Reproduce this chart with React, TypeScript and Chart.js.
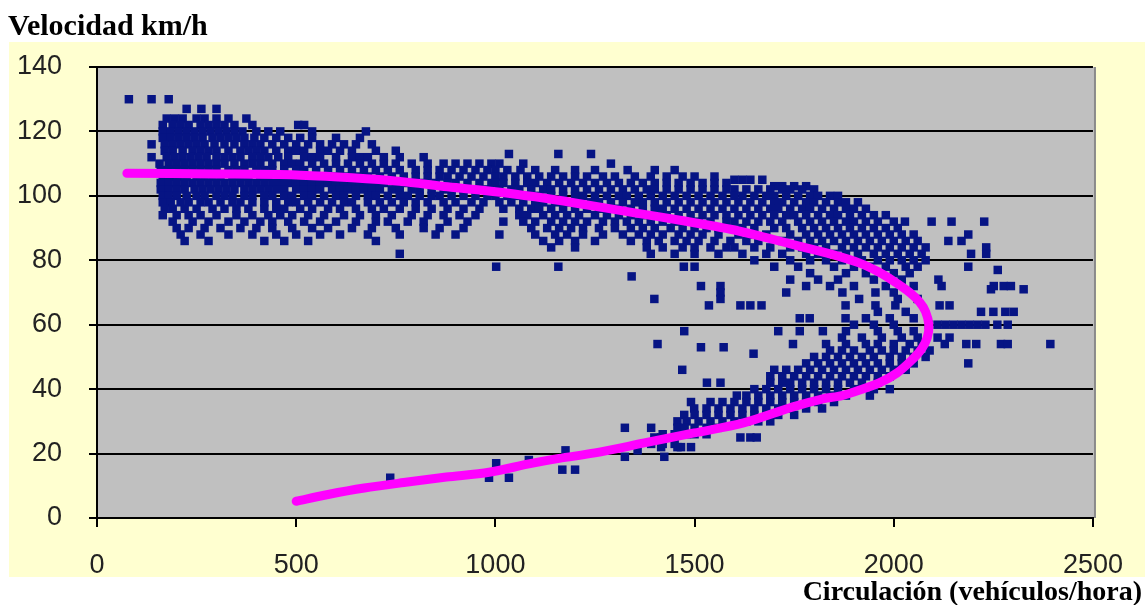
import React, { useEffect, useRef } from "react";
import { Chart, registerables } from "chart.js";

Chart.register(...registerables);

const yTickValues = [0, 20, 40, 60, 80, 100, 120, 140];
const xTickValues = [0, 500, 1000, 1500, 2000, 2500];

// Fitted speed-flow curve (flow veh/h, speed km/h)
const curveFlow = [75, 300, 500, 640, 760, 880, 1000, 1100, 1200, 1350, 1475, 1600, 1680, 1760, 1840, 1913, 1960, 2000, 2040, 2065, 2080, 2088, 2084, 2070, 2045, 2008, 1965, 1921, 1870, 1822, 1747, 1623, 1499, 1374, 1250, 1160, 1084, 984, 877, 770, 671, 580, 500];
const curveSpeed = [107, 106.8, 106.5, 105.6, 104.5, 102.8, 101.3, 99.7, 97.8, 94.7, 92.2, 89.4, 87, 84.5, 82, 79.2, 76.5, 73.5, 70, 67, 64, 60, 56, 52.5, 49, 45, 42, 40, 38, 37, 34.5, 29.5, 26.4, 23.3, 20.2, 18.5, 16.8, 14.2, 12.7, 11, 9.3, 7.3, 5.2];

// Observations, grouped by speed row: [speed, flows]
const upperLeftRows: [number, number[]][] = [
  [130, [80, 137, 180]],
  [127, [225, 262, 300]],
  [124, [175, 195, 215, 250, 270, 300, 330, 375]],
  [122, [165, 190, 210, 230, 260, 280, 300, 320, 345, 390, 505, 520]],
  [120, [165, 185, 205, 225, 245, 265, 285, 305, 325, 345, 365, 400, 430, 460, 540, 675]],
  [118, [165, 185, 205, 225, 245, 265, 290, 310, 330, 350, 370, 395, 420, 450, 480, 510, 540, 600, 660]],
  [116, [137, 170, 190, 210, 230, 250, 270, 295, 320, 345, 370, 390, 410, 440, 470, 500, 530, 560, 590, 620, 650, 690]],
  [114, [170, 190, 215, 240, 260, 280, 300, 330, 360, 380, 400, 420, 450, 480, 500, 520, 560, 580, 610, 640, 700, 750]],
  [112, [137, 175, 195, 215, 235, 255, 275, 300, 320, 340, 360, 390, 410, 430, 455, 480, 520, 540, 560, 600, 640, 660, 680, 720, 760, 820]],
  [110, [157, 180, 200, 220, 240, 260, 280, 300, 320, 345, 370, 390, 410, 440, 470, 490, 510, 540, 570, 600, 630, 660, 690, 720, 750, 790, 830, 870, 900, 930, 960, 990]],
  [108, [160, 180, 200, 220, 240, 260, 280, 300, 330, 350, 370, 400, 420, 440, 470, 500, 520, 550, 580, 610, 640, 670, 700, 730, 760, 800, 830, 860, 890, 920, 950, 980]],
  [106, [165, 185, 205, 225, 250, 270, 290, 310, 340, 360, 380, 410, 430, 460, 480, 510, 540, 570, 600, 630, 650, 680, 710, 740, 770, 800, 830, 860, 880, 910, 940, 970]],
  [104, [160, 180, 200, 220, 240, 260, 280, 300, 320, 340, 360, 380, 400, 420, 440, 460, 480, 500, 520, 540, 560, 580, 600, 620, 640, 660, 680, 700, 720, 750, 780, 800, 820, 850, 880, 900, 930, 960, 990]],
  [102, [160, 180, 200, 220, 245, 265, 285, 305, 325, 345, 370, 390, 410, 430, 450, 470, 500, 520, 540, 560, 590, 610, 630, 650, 670, 690, 710, 740, 760, 790, 810, 840, 870, 890, 920, 950, 980]],
  [100, [165, 180, 200, 225, 250, 270, 300, 320, 340, 370, 390, 420, 440, 470, 490, 520, 540, 570, 600, 620, 650, 680, 700, 730, 760, 780, 810, 840, 860, 890, 920, 950, 980]],
  [98, [165, 185, 210, 230, 260, 280, 310, 340, 360, 390, 420, 450, 480, 500, 530, 560, 590, 620, 640, 680, 710, 740, 770, 800, 830, 870, 900, 940, 970]],
  [96, [170, 190, 220, 250, 290, 320, 350, 380, 420, 450, 470, 510, 540, 580, 610, 650, 690, 720, 760, 800, 840, 880, 920, 960]],
  [94, [165, 200, 230, 260, 300, 350, 390, 430, 460, 490, 530, 570, 620, 660, 700, 740, 790, 830, 870, 910, 950]],
  [92, [190, 240, 280, 330, 370, 410, 440, 480, 520, 560, 600, 650, 700, 730, 780, 820, 880, 930]],
  [90, [200, 230, 270, 310, 360, 400, 440, 490, 540, 580, 640, 690, 750, 820, 860, 920]],
  [88, [210, 260, 330, 390, 450, 500, 560, 610, 680, 760, 850, 900]],
  [86, [220, 280, 420, 470, 530, 700]],
  [82, [760]],
];

const upperMiddleRows: [number, number[]][] = [
  [113, [1034, 1158, 1240]],
  [110, [1010, 1070, 1290]],
  [108, [1000, 1030, 1063, 1100, 1150, 1200, 1250, 1332, 1400, 1450]],
  [106, [1000, 1020, 1050, 1080, 1110, 1140, 1170, 1200, 1230, 1270, 1300, 1350, 1390, 1430, 1470, 1500, 1550]],
  [104, [1000, 1020, 1050, 1080, 1100, 1130, 1160, 1190, 1220, 1250, 1280, 1310, 1340, 1370, 1400, 1430, 1460, 1490, 1520, 1550, 1580]],
  [102, [1010, 1040, 1060, 1090, 1120, 1140, 1170, 1200, 1230, 1260, 1290, 1320, 1350, 1380, 1400, 1430, 1460, 1490, 1520, 1550, 1580]],
  [100, [1000, 1030, 1060, 1080, 1110, 1140, 1170, 1200, 1220, 1250, 1280, 1310, 1330, 1360, 1390, 1420, 1450, 1480, 1510, 1540, 1570]],
  [98, [1010, 1040, 1070, 1100, 1120, 1150, 1180, 1210, 1240, 1260, 1290, 1320, 1350, 1370, 1400, 1430, 1460, 1490, 1520, 1550, 1580]],
  [96, [1020, 1060, 1090, 1110, 1140, 1170, 1200, 1230, 1260, 1290, 1310, 1340, 1370, 1400, 1420, 1450, 1480, 1510, 1540, 1570]],
  [94, [1060, 1080, 1120, 1150, 1180, 1210, 1250, 1280, 1310, 1340, 1370, 1400, 1430, 1460, 1490, 1520, 1550, 1580]],
  [92, [1020, 1070, 1100, 1140, 1170, 1200, 1230, 1270, 1300, 1330, 1360, 1390, 1420, 1450, 1480, 1510, 1540, 1580]],
  [90, [1090, 1130, 1160, 1190, 1220, 1260, 1300, 1340, 1370, 1400, 1440, 1470, 1500, 1530, 1560]],
  [88, [1010, 1100, 1150, 1180, 1220, 1270, 1320, 1360, 1390, 1420, 1460, 1490, 1520, 1560]],
  [86, [1120, 1160, 1200, 1250, 1340, 1380, 1410, 1450, 1480, 1510, 1550, 1590]],
  [84, [1140, 1200, 1380, 1420, 1470, 1500, 1540, 1580]],
  [82, [1390, 1450, 1500, 1560]],
  [78, [1002, 1158, 1473, 1500]],
  [75, [1342]],
  [72, [1516, 1565]],
];

const upperRightRows: [number, number[]][] = [
  [105, [1600, 1620, 1640, 1670]],
  [103, [1700, 1720, 1750, 1780]],
  [102, [1600, 1630, 1660, 1690, 1720, 1740, 1770, 1800]],
  [100, [1600, 1620, 1650, 1680, 1700, 1730, 1760, 1790, 1810, 1840, 1860]],
  [98, [1610, 1640, 1670, 1700, 1720, 1750, 1780, 1800, 1830, 1860, 1880, 1910]],
  [96, [1600, 1630, 1660, 1690, 1710, 1740, 1770, 1790, 1820, 1850, 1880, 1900, 1930]],
  [94, [1610, 1640, 1670, 1700, 1730, 1750, 1780, 1810, 1840, 1860, 1890, 1920, 1950, 1980]],
  [92, [1600, 1630, 1660, 1690, 1720, 1760, 1790, 1820, 1850, 1880, 1900, 1930, 1960, 2000, 2028, 2095, 2145, 2227]],
  [90, [1620, 1650, 1700, 1730, 1770, 1800, 1830, 1860, 1890, 1920, 1950, 1980, 2010]],
  [88, [1610, 1640, 1680, 1740, 1780, 1810, 1840, 1870, 1900, 1930, 1960, 1990, 2020, 2050, 2187]],
  [86, [1630, 1660, 1720, 1760, 1790, 1820, 1850, 1880, 1910, 1940, 1970, 2000, 2030, 2060, 2137, 2170]],
  [84, [1600, 1650, 1690, 1740, 1770, 1800, 1830, 1870, 1900, 1930, 1960, 1990, 2020, 2050, 2080, 2232]],
  [82, [1620, 1680, 1720, 1780, 1810, 1850, 1880, 1910, 1950, 1980, 2010, 2040, 2070, 2194, 2232]],
  [80, [1650, 1740, 1790, 1830, 1870, 1920, 1960, 1990, 2020, 2050, 2080]],
  [78, [1700, 1760, 1850, 1900, 1940, 1980, 2030, 2060, 2187]],
  [77, [2261]],
  [76, [1790, 1880, 1930, 2000, 2040]],
  [74, [1740, 1810, 1860, 1950, 2020, 2112]],
  [72, [1780, 1840, 1900, 1980, 2050, 2120, 2251, 2276, 2294]],
  [71, [2244, 2326]],
];

const middleRows: [number, number[]][] = [
  [70, [1565, 1730, 1871, 1954, 2000]],
  [68, [1399, 1565, 1913, 2010, 2060]],
  [66, [1536, 1615, 1640, 1668, 1879, 1954, 2004, 2115, 2140]],
  [64, [1960, 2030, 2219, 2250, 2280, 2301]],
  [62, [1764, 1789, 1879, 1930, 1990, 2050]],
  [60, [1900, 1950, 2000, 2088, 2110, 2130, 2150, 2170, 2190, 2210, 2230, 2260, 2286]],
  [58, [1474, 1710, 1764, 1822, 1880, 1960, 2010, 2050]],
  [56, [1870, 1920, 1970, 2020, 2060, 2110, 2140]],
  [54, [1407, 1747, 1830, 1880, 1930, 1960, 2000, 2040, 2070, 2128, 2182, 2207, 2269, 2286, 2393]],
  [53, [1516, 1573]],
  [52, [1840, 1870, 1900, 1940, 1970, 2000, 2030, 2060, 2090]],
  [51, [1648]],
  [50, [1800, 1830, 1860, 1890, 1920, 1950, 1990, 2020, 2050, 2080]],
  [48, [1780, 1810, 1840, 1870, 1900, 1930, 1960, 1990, 2020, 2050, 2187]],
];

const lowerRows: [number, number[]][] = [
  [46, [1469, 1700, 1730, 1760, 1790, 1820, 1850, 1880, 1910, 1940, 1970, 2000, 2030]],
  [44, [1690, 1720, 1750, 1780, 1810, 1840, 1870, 1900, 1930, 1960, 1990]],
  [42, [1531, 1565, 1690, 1720, 1740, 1770, 1800, 1830, 1860, 1890, 1920, 1960]],
  [40, [1650, 1680, 1710, 1740, 1770, 1800, 1830, 1860, 1900, 1950, 1990]],
  [38, [1606, 1630, 1660, 1690, 1720, 1750, 1780, 1810, 1840, 1880, 1940]],
  [36, [1491, 1540, 1570, 1600, 1630, 1660, 1690, 1720, 1750, 1780, 1810, 1850]],
  [34, [1499, 1530, 1560, 1590, 1620, 1650, 1680, 1710, 1740, 1780, 1820]],
  [32, [1474, 1500, 1530, 1560, 1590, 1620, 1650, 1680, 1710, 1750]],
  [30, [1457, 1480, 1510, 1540, 1570, 1600, 1630, 1660, 1690]],
  [28, [1325, 1391, 1457, 1475, 1500, 1530, 1560]],
  [26, [1420, 1450, 1480, 1500, 1530]],
  [25, [1399, 1416, 1615, 1640, 1656]],
  [23, [1391, 1420, 1450]],
  [22, [1416, 1457, 1466, 1491]],
  [21, [1176, 1357]],
  [19, [1325, 1424]],
  [18, [1084]],
  [17, [1002]],
  [15, [1168, 1200]],
  [12.5, [736, 984, 1034]],
];

const NAVY = "#061484";
const MAGENTA = "#FF00FF";
const CREAM = "#FFFFD0";
const PLOT_GRAY = "#C0C0C0";

const toPoints = (rows: [number, number[]][]) =>
  rows.flatMap(([speed, flows]) => flows.map((flow) => ({ x: flow, y: speed })));

const backgroundPlugin = {
  id: "panelBackground",
  beforeDraw(chart: any) {
    const { ctx, chartArea: a, width, height } = chart;
    ctx.save();
    ctx.fillStyle = "#FFFFFF";
    ctx.fillRect(0, 0, width, height);
    ctx.fillStyle = CREAM;
    ctx.fillRect(9, 42, width - 9, 535);
    ctx.fillStyle = PLOT_GRAY;
    ctx.fillRect(a.left, a.top, a.right - a.left + 2, a.bottom - a.top);
    ctx.strokeStyle = "#8A8A8A";
    ctx.lineWidth = 2;
    ctx.beginPath();
    ctx.moveTo(a.right + 2, a.top);
    ctx.lineTo(a.right + 2, a.bottom);
    ctx.stroke();
    ctx.restore();
  },
};

export default function App() {
  const canvasRef = useRef<HTMLCanvasElement | null>(null);

  useEffect(() => {
    if (!canvasRef.current) return;
    const observations = [
      ...toPoints(upperLeftRows),
      ...toPoints(upperMiddleRows),
      ...toPoints(upperRightRows),
      ...toPoints(middleRows),
      ...toPoints(lowerRows),
    ];
    const curve = curveFlow.map((x, i) => ({ x, y: curveSpeed[i] }));
    const tickFont = { family: "'Liberation Sans', Arial, sans-serif", size: 27 };

    const chart = new Chart(canvasRef.current, {
      type: "scatter",
      data: {
        datasets: [
          {
            data: curve,
            showLine: true,
            borderColor: MAGENTA,
            backgroundColor: MAGENTA,
            borderWidth: 9,
            pointRadius: 0,
            tension: 0.3,
            borderCapStyle: "round",
            borderJoinStyle: "round",
          } as any,
          {
            data: observations,
            pointStyle: "rect",
            pointRadius: 6,
            backgroundColor: NAVY,
            borderWidth: 0,
          },
        ],
      },
      options: {
        animation: false,
        responsive: false,
        events: [],
        layout: { padding: { left: 0, top: 67, right: 42, bottom: 0 } },
        plugins: {
          legend: { display: false },
          tooltip: { enabled: false },
          title: { display: false },
        },
        scales: {
          x: {
            type: "linear",
            min: 0,
            max: 2500,
            afterBuildTicks: (scale: any) => {
              scale.ticks = xTickValues.map((v) => ({ value: v }));
            },
            ticks: { color: "#222", font: tickFont, padding: 22, maxRotation: 0, callback: (v: any) => String(v) },
            grid: { drawOnChartArea: false, drawTicks: true, tickLength: 9, color: "#000", lineWidth: 2 },
            border: { display: true, color: "#000", width: 2 },
            afterFit: (scale: any) => {
              scale.height = 87;
            },
          },
          y: {
            type: "linear",
            min: 0,
            max: 140,
            afterBuildTicks: (scale: any) => {
              scale.ticks = yTickValues.map((v) => ({ value: v }));
            },
            ticks: { color: "#222", font: tickFont, padding: 27, callback: (v: any) => String(v) },
            grid: { color: "#000", lineWidth: 2, tickLength: 8 },
            border: { display: true, color: "#000", width: 2 },
            afterFit: (scale: any) => {
              scale.width = 97;
            },
          },
        },
      } as any,
      plugins: [backgroundPlugin],
    });
    return () => chart.destroy();
  }, []);

  return (
    <div style={{ position: "absolute", left: 0, top: 0, width: 1145, height: 605, background: "#fff", overflow: "hidden" }}>
      <canvas ref={canvasRef} width={1145} height={605} style={{ position: "absolute", left: 0, top: 0, width: 1145, height: 605 }} />
      <div
        style={{
          position: "absolute",
          left: 8,
          top: 10,
          fontFamily: "'Liberation Serif', 'Times New Roman', serif",
          fontWeight: "bold",
          fontSize: 30,
          lineHeight: "30px",
          whiteSpace: "nowrap",
          color: "#000",
        }}
      >
        Velocidad km/h
      </div>
      <div
        style={{
          position: "absolute",
          right: 3,
          top: 577,
          fontFamily: "'Liberation Serif', 'Times New Roman', serif",
          fontWeight: "bold",
          fontSize: 28,
          lineHeight: "28px",
          whiteSpace: "nowrap",
          color: "#000",
        }}
      >
        Circulación (vehículos/hora)
      </div>
    </div>
  );
}
